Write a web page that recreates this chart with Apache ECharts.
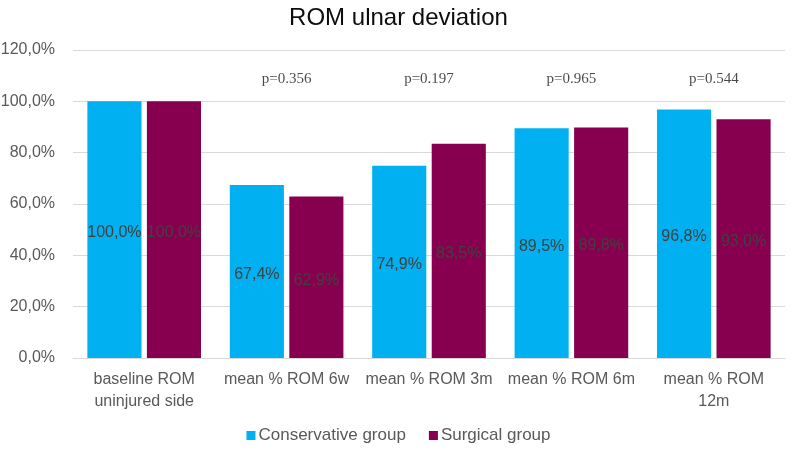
<!DOCTYPE html>
<html><head><meta charset="utf-8">
<script src="https://cdn.jsdelivr.net/npm/echarts@6/dist/echarts.min.js"></script>
<style>html,body{margin:0;padding:0;background:#fff}#c{width:797px;height:450px}</style>
</head><body><div id="c"></div>
<script>
const categories = ['baseline ROM\nuninjured side', 'mean % ROM 6w', 'mean % ROM 3m', 'mean % ROM 6m', 'mean % ROM\n12m'];
const conservative = [100.0, 67.4, 74.9, 89.5, 96.8];
const surgical = [100.0, 62.9, 83.5, 89.8, 93.0];
const pValues = ['', 'p=0.356', 'p=0.197', 'p=0.965', 'p=0.544'];
const pLevel = 108.5;

const fmt = v => v.toFixed(1).replace('.', ',') + '%';
const chart = echarts.init(document.getElementById('c'), null, {renderer: 'canvas'});
chart.setOption({
  animation: false,
  title: {text: 'ROM ulnar deviation', left: 'center', top: 1,
    textStyle: {fontFamily: 'Liberation Sans', fontSize: 24, fontWeight: 'normal', color: '#0d0d0d'}},
  legend: {bottom: 1, left: 'center', itemWidth: 9, itemHeight: 9, itemGap: 23,
    icon: 'rect', data: ['Conservative group', 'Surgical group'],
    textStyle: {fontFamily: 'Liberation Sans', fontSize: 17, color: '#595959', padding: [0, 0, 0, -2]}},
  grid: {left: 73, right: 12, top: 50, bottom: 92, containLabel: false, outerBoundsMode: 'none'},
  xAxis: {type: 'category', data: categories,
    axisLine: {lineStyle: {color: '#d9d9d9'}}, axisTick: {show: false},
    axisLabel: {fontFamily: 'Liberation Sans', fontSize: 16, color: '#595959', margin: 11, lineHeight: 22, interval: 0}},
  yAxis: {type: 'value', min: 0, max: 120, interval: 20,
    axisLine: {show: false}, axisTick: {show: false},
    splitLine: {lineStyle: {color: '#d9d9d9'}},
    axisLabel: {fontFamily: 'Liberation Sans', fontSize: 16, color: '#595959', margin: 18, formatter: v => fmt(v)}},
  series: [
    {name: 'Conservative group', type: 'bar', data: conservative, barWidth: '38%', barGap: '10%',
      itemStyle: {color: '#00B0F0'},
      label: {show: true, position: 'inside', offset: [0, 3], formatter: p => fmt(p.value),
        fontFamily: 'Liberation Sans', fontSize: 16, color: '#404040'}},
    {name: 'Surgical group', type: 'bar', data: surgical, barWidth: '38%', barGap: '10%',
      itemStyle: {color: '#870050'},
      label: {show: true, position: 'inside', offset: [0, 3], formatter: p => fmt(p.value),
        fontFamily: 'Liberation Sans', fontSize: 16, color: '#404040'}},
    {name: 'p', type: 'scatter', data: pValues.map(p => p ? pLevel : null),
      symbolSize: 0, silent: true,
      label: {show: true, position: 'inside', formatter: p => pValues[p.dataIndex],
        fontFamily: 'Liberation Serif', fontSize: 15, color: '#1a1a1a'}}
  ]
});
</script></body></html>
